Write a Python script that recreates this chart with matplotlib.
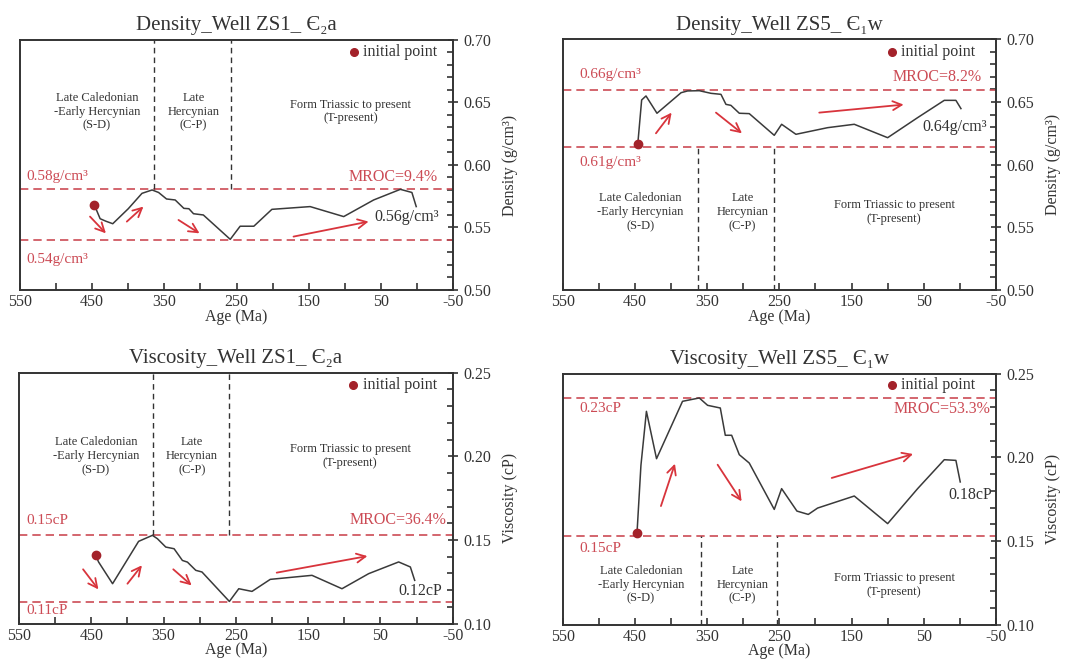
import matplotlib
matplotlib.use("Agg")
from matplotlib import pyplot as plt
from matplotlib.ticker import MultipleLocator, FixedLocator

plt.rcParams['font.family'] = ['Liberation Serif', 'DejaVu Serif']
plt.rcParams['axes.unicode_minus'] = False

# ---- data ----
# ages (Ma) and values for each well/property
zs1_den_age = [447, 439, 431, 421.5, 400, 381, 367, 358, 347, 335, 323, 316, 309.6, 296, 258.7, 245, 226, 201, 148, 101.5, 60, 23, 7, 1]
zs1_den_val = [0.568, 0.557, 0.555, 0.553, 0.565, 0.5773, 0.580, 0.578, 0.5728, 0.572, 0.5653, 0.565, 0.561, 0.560, 0.5405, 0.551, 0.551, 0.5645, 0.5667, 0.5587, 0.572, 0.5805, 0.578, 0.5667]

zs5_den_age = [446, 440.6, 434.6, 419.4, 386, 377, 360.8, 344.6, 330.8, 323.9, 317, 305.4, 291.6, 257, 246.8, 227, 183.1, 146.2, 100, 58.5, 21.6, 5.5, -1.5]
zs5_den_val = [0.6162, 0.6516, 0.6548, 0.6410, 0.6574, 0.6588, 0.659, 0.6569, 0.6561, 0.6481, 0.6473, 0.641, 0.6407, 0.6234, 0.6322, 0.6242, 0.6295, 0.6322, 0.6215, 0.6375, 0.6513, 0.6513, 0.6447]

zs1_vis_age = [443.8, 440, 420.6, 384.6, 365.5, 358.6, 347, 335.5, 324, 317, 305.5, 296.9, 259, 246, 227.7, 202.4, 144.7, 103.2, 66.3, 24.8, 8.6, 2.6]
zs1_vis_val = [0.1408, 0.1369, 0.1239, 0.1492, 0.1528, 0.1508, 0.1458, 0.1448, 0.1378, 0.1368, 0.1319, 0.1309, 0.1133, 0.1209, 0.1193, 0.1265, 0.1289, 0.1209, 0.1299, 0.1369, 0.1339, 0.1259]

zs5_vis_age = [447, 441.6, 434, 420, 384, 360.8, 349.3, 331.7, 324.8, 316, 305.4, 291.6, 257, 246.8, 225.6, 209.9, 197, 146.2, 100, 58.5, 21.6, 5.5, -0.5]
zs5_vis_val = [0.155, 0.1952, 0.2275, 0.1992, 0.2335, 0.2355, 0.2311, 0.2295, 0.2132, 0.2132, 0.2016, 0.1966, 0.1689, 0.1813, 0.1679, 0.1659, 0.1697, 0.1769, 0.1604, 0.1813, 0.1986, 0.1982, 0.1853]

# max / min reference levels and labels
zs1_den_lines = [0.5805, 0.540]
zs5_den_lines = [0.6596, 0.6138]
zs1_vis_lines = [0.1532, 0.113]
zs5_vis_lines = [0.2357, 0.153]

zs1_den_text = ['0.58g/cm³', '0.54g/cm³', 'MROC=9.4%', '0.56g/cm³']
zs5_den_text = ['0.66g/cm³', '0.61g/cm³', 'MROC=8.2%', '0.64g/cm³']
zs1_vis_text = ['0.15cP', '0.11cP', 'MROC=36.4%', '0.12cP']
zs5_vis_text = ['0.23cP', '0.15cP', 'MROC=53.3%', '0.18cP']

# tectonic stage boundaries (Ma)
zs1_den_bounds = [365, 258]
zs5_den_bounds = [363, 258]
zs1_vis_bounds = [364, 259.4]
zs5_vis_bounds = [358.5, 253.3]

stage_names = ['Late Caledonian\n-Early Hercynian\n(S-D)', 'Late\nHercynian\n(C-P)',
               'Form Triassic to present\n(T-present)']

# trend arrows (start age, start value, end age, end value)
zs1_den_arrows = [(453, 0.5587, 431, 0.5453), (402, 0.5547, 379, 0.5667),
                  (330.4, 0.556, 301.3, 0.5453), (171, 0.5427, 67, 0.5547)]
zs5_den_arrows = [(420.8, 0.625, 399.1, 0.6415), (337.7, 0.6415, 301.7, 0.625),
                  (194.7, 0.6415, 77.9, 0.6479)]
zs1_vis_arrows = [(461.4, 0.1325, 440.2, 0.1205), (400, 0.1239, 380, 0.1349),
                  (336.6, 0.1325, 311.2, 0.1229), (193.5, 0.1305, 68, 0.1404)]
zs5_vis_arrows = [(413.9, 0.1709, 394.5, 0.1962), (335.4, 0.1956, 302.2, 0.1737),
                  (177.4, 0.1877, 64.8, 0.2020)]

RED_LINE = '#cc4b55'
RED_ARROW = '#d8343c'
DOT = '#a3222a'
CURVE = '#3a3a3a'
TEXT = '#333333'

fig = plt.figure(figsize=(10.82, 6.64), dpi=100)

panels = [
    dict(rect=[0.0185, 0.5633, 0.4002, 0.3765], title='Density_Well ZS1_ Є₂a', ylabel='Density (g/cm³)',
         ylim=(0.50, 0.70), major=0.05, minor=0.01, age=zs1_den_age, val=zs1_den_val, lines=zs1_den_lines,
         texts=zs1_den_text, bounds=zs1_den_bounds, arrows=zs1_den_arrows, bound_top=True,
         txt_y=[0.5907, 0.524, 0.5907, 0.5587], txt_x=[541.7, 541.7, -28.8, -30],
         stage_x=[443.6, 309.6, 92.3], stage_y=0.6427, legend=(87.7, 0.690)),
    dict(rect=[0.520, 0.5633, 0.4005, 0.3775], title='Density_Well ZS5_ Є₁w', ylabel='Density (g/cm³)',
         ylim=(0.50, 0.70), major=0.05, minor=0.01, age=zs5_den_age, val=zs5_den_val, lines=zs5_den_lines,
         texts=zs5_den_text, bounds=zs5_den_bounds, arrows=zs5_den_arrows, bound_top=False,
         txt_y=[0.672, 0.6016, 0.670, 0.630], txt_x=[527, 527, -30, -37.5],
         stage_x=[442.5, 300.8, 90.8], stage_y=0.562, legend=(94, 0.6896)),
    dict(rect=[0.0176, 0.0607, 0.4008, 0.378], title='Viscosity_Well ZS1_ Є₂a', ylabel='Viscosity (cP)',
         ylim=(0.10, 0.25), major=0.05, minor=0.01, age=zs1_vis_age, val=zs1_vis_val, lines=zs1_vis_lines,
         texts=zs1_vis_text, bounds=zs1_vis_bounds, arrows=zs1_vis_arrows, bound_top=True,
         txt_y=[0.1618, 0.108, 0.1618, 0.1193], txt_x=[540, 540, -41, -36],
         stage_x=[443.8, 311, 92], stage_y=0.2002, legend=(87.6, 0.2424)),
    dict(rect=[0.520, 0.0592, 0.4005, 0.378], title='Viscosity_Well ZS5_ Є₁w', ylabel='Viscosity (cP)',
         ylim=(0.10, 0.25), major=0.05, minor=0.01, age=zs5_vis_age, val=zs5_vis_val, lines=zs5_vis_lines,
         texts=zs5_vis_text, bounds=zs5_vis_bounds, arrows=zs5_vis_arrows, bound_top=False,
         txt_y=[0.2291, 0.1458, 0.2287, 0.1773], txt_x=[527, 527, -42, -44],
         stage_x=[441.6, 300.8, 90.8], stage_y=0.1239, legend=(94, 0.2430)),
]

for p in panels:
    ax = fig.add_axes(p['rect'])
    ax.set_xlim(550, -50)
    ax.set_ylim(*p['ylim'])
    for s in ax.spines.values():
        s.set_linewidth(1.4)
        s.set_color('#333333')

    ax.yaxis.tick_right()
    ax.yaxis.set_label_position('right')
    ax.xaxis.set_major_locator(FixedLocator([550, 450, 350, 250, 150, 50, -50]))
    ax.xaxis.set_minor_locator(FixedLocator([500, 400, 300, 200, 100, 0]))
    ax.yaxis.set_major_locator(MultipleLocator(p['major']))
    ax.yaxis.set_minor_locator(MultipleLocator(p['minor']))
    ax.tick_params(axis='x', which='both', direction='in', length=5, width=1.2, labelsize=11.5, colors='#333333', pad=3)
    ax.tick_params(axis='y', which='major', direction='inout', length=7, width=1.2, labelsize=11.5, colors='#333333', pad=4)
    ax.tick_params(axis='y', which='minor', direction='in', length=4, width=1.2, colors='#333333')
    ax.yaxis.set_major_formatter(matplotlib.ticker.FormatStrFormatter('%.2f'))

    ax.set_title(p['title'], fontsize=15, color=TEXT, pad=7)
    ax.set_xlabel('Age (Ma)', fontsize=11.5, color=TEXT, labelpad=-1)
    ax.set_ylabel(p['ylabel'], fontsize=11.5, color=TEXT, labelpad=8)

    hi, lo = p['lines']
    for lv in p['lines']:
        ax.axhline(lv, color=RED_LINE, lw=1.2, ls=(0, (5, 3)), zorder=2)

    y0, y1 = p['ylim']
    for b in p['bounds']:
        if p['bound_top']:
            ax.plot([b, b], [hi, y1], color='#333333', lw=1.0, ls=(0, (4, 3)), zorder=2)
        else:
            ax.plot([b, b], [y0, lo], color='#333333', lw=1.0, ls=(0, (4, 3)), zorder=2)

    ax.plot(p['age'], p['val'], color=CURVE, lw=1.1, zorder=3)
    ax.plot(p['age'][0], p['val'][0], 'o', color=DOT, ms=6, zorder=4)

    for (xa, ya, xb, yb) in p['arrows']:
        ax.annotate('', xy=(xb, yb), xytext=(xa, ya),
                    arrowprops=dict(arrowstyle='->', color=RED_ARROW, lw=1.3, mutation_scale=16,
                                    shrinkA=0, shrinkB=0), zorder=3)

    t = p['texts']
    tx, ty = p['txt_x'], p['txt_y']
    ax.text(tx[0], ty[0], t[0], fontsize=11, color=RED_LINE, ha='left', va='center')
    ax.text(tx[1], ty[1], t[1], fontsize=11, color=RED_LINE, ha='left', va='center')
    ax.text(tx[2], ty[2], t[2], fontsize=11.5, color=RED_LINE, ha='right', va='center')
    ax.text(tx[3], ty[3], t[3], fontsize=11.5, color=TEXT, ha='right', va='center')

    for sx, name in zip(p['stage_x'], stage_names):
        ax.text(sx, p['stage_y'], name, fontsize=9, color=TEXT, ha='center', va='center',
                linespacing=1.2)

    lx, ly = p['legend']
    ax.plot(lx, ly, 'o', color=DOT, ms=5.5)
    ax.text(lx - 13, ly, 'initial point', fontsize=11.5, color=TEXT, ha='left', va='center')

fig.savefig('out.png', dpi=100)
